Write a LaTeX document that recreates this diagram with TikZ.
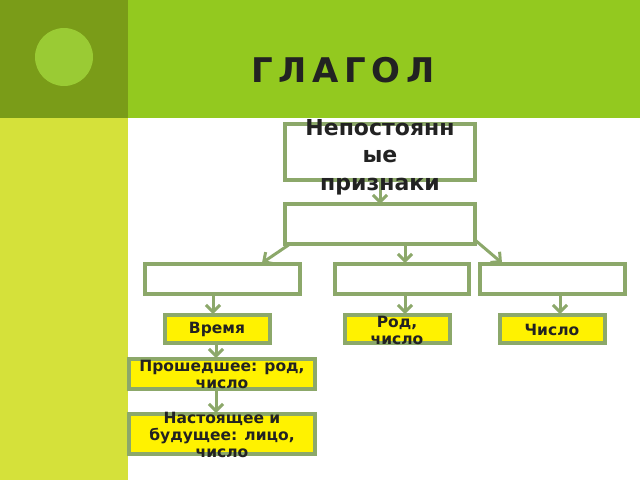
\documentclass[tikz,border=0pt]{standalone}
\usepackage{fontspec}
\setmainfont{DejaVu Sans}
\usetikzlibrary{arrows.meta}
\definecolor{band}{HTML}{93C91F}
\definecolor{darkol}{HTML}{7A9C18}
\definecolor{lime}{HTML}{D5E13A}
\definecolor{circ}{HTML}{9ACB34}
\definecolor{bord}{HTML}{8CA86A}
\definecolor{ink}{HTML}{222222}
\tikzset{
 box/.style={draw=bord,line width=3.5pt,fill=white},
 ybox/.style={draw=bord,line width=3.5pt,fill=yellow},
 lbl/.style={font=\bfseries\fontsize{15.5}{17}\selectfont,text=ink,align=center},
 arr/.style={draw=bord,line width=3pt,-{Straight Barb[length=7pt,width=14pt]}}
}
\begin{document}
\begin{tikzpicture}[x=1pt,y=-1pt]
\useasboundingbox (0,0) rectangle (640,480);
\fill[white] (0,0) rectangle (640,480);
\fill[band] (128,0) rectangle (640,118);
\fill[darkol] (0,0) rectangle (128,118);
\fill[lime] (0,118) rectangle (128,480);
\fill[circ] (64,57) circle (29);
\node[font=\bfseries\fontsize{34}{34}\selectfont,text=ink] (title) at (343,70) {Г\,Л\,А\,Г\,О\,Л};
% boxes
\path[box] (285,124) rectangle (475,180);
\coordinate (t1) at (380,180);
\path[box] (285,204) rectangle (475,244);
\path[box] (145,264) rectangle (300,294);
\path[box] (335,264) rectangle (469,294);
\path[box] (480,264) rectangle (625,294);
\path[ybox] (165,315) rectangle (270,343);
\path[ybox] (345,315) rectangle (450,343);
\path[ybox] (500,315) rectangle (605,343);
\path[ybox] (129,359) rectangle (315,389);
\path[ybox] (129,414) rectangle (315,454);
% named anchor coordinates
\coordinate (s2t) at (380,204);
\coordinate (s2l) at (290,244); \coordinate (al) at (262,263);
\coordinate (s2m) at (405,244); \coordinate (bm) at (405,263);
\coordinate (s2r) at (475,240); \coordinate (cr) at (502,263);
\coordinate (ab) at (213,294); \coordinate (vt) at (213,314);
\coordinate (bb) at (405,294); \coordinate (rt) at (405,314);
\coordinate (cb) at (560,294); \coordinate (ct) at (560,314);
\coordinate (vb) at (216,343); \coordinate (pt) at (216,358);
\coordinate (pb) at (216,389); \coordinate (nt) at (216,413);
\draw[arr] (t1) -- (s2t);
\draw[arr] (s2l) -- (al);
\draw[arr] (s2m) -- (bm);
\draw[arr] (s2r) -- (cr);
\draw[arr] (ab) -- (vt);
\draw[arr] (bb) -- (rt);
\draw[arr] (cb) -- (ct);
\draw[arr] (vb) -- (pt);
\draw[arr] (pb) -- (nt);
% texts
\node[lbl,font=\bfseries\fontsize{22}{27.5}\selectfont] (n1) at (380,157) {Непостоянн\\ые\\признаки};
\node[lbl] (n2) at (217,329) {Время};
\node[lbl] (n3) at (397,330) {Род,\\число};
\node[lbl] (n4) at (552,330) {Число};
\node[lbl] (n5) at (222,374) {Прошедшее: род,\\число};
\node[lbl] (n6) at (222,435) {Настоящее и\\будущее: лицо,\\число};
\end{tikzpicture}
\end{document}
